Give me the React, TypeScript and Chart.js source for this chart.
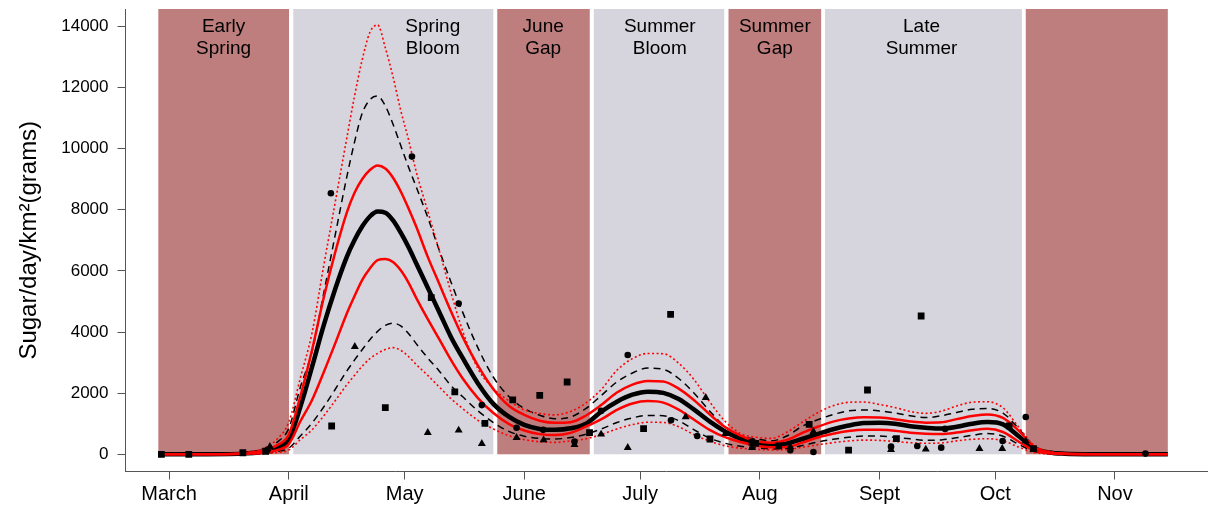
import React, { useEffect, useRef } from 'react';
import { Chart, registerables } from 'chart.js';

Chart.register(...registerables);

// ---- data (x = day of year) ----
const days = [
  57.2, 70, 80, 85, 88,
  91, 94, 97, 100, 103,
  106, 108, 110, 112, 114,
  116, 118, 120, 122, 124,
  127, 130, 133, 136, 140,
  144, 148, 152, 156, 160,
  164, 168, 172, 176, 180,
  184, 188, 192, 196, 200,
  204, 208, 212, 216, 220,
  224, 228, 232, 236, 240,
  244, 248, 252, 256, 260,
  264, 268, 272, 276, 280,
  284, 288, 292, 300, 310,
  318.7,
];

const meanCurve = [
  0, 0, 30, 100, 220,
  480, 1550, 2850, 4200, 5400,
  6450, 7000, 7450, 7780, 7940,
  7900, 7650, 7250, 6780, 6250,
  5450, 4650, 3840, 3160, 2320,
  1650, 1230, 960, 830, 800,
  850, 1000, 1400, 1720, 1950,
  2050, 2010, 1810, 1460, 1075,
  750, 510, 375, 300, 350,
  500, 660, 820, 940, 1020,
  1030, 1000, 920, 870, 840,
  900, 1000, 1055, 980, 600,
  200, 60, 20, 2, 0,
  0,
];

const redUpper = [
  0, 0, 40, 140, 300,
  650, 1900, 3400, 5100, 6600,
  7900, 8550, 9000, 9300, 9450,
  9350, 9050, 8600, 8050, 7450,
  6460, 5570, 4680, 3850, 2900,
  2130, 1590, 1290, 1100, 1030,
  1050, 1270, 1620, 2020, 2280,
  2400, 2380, 2150, 1770, 1310,
  890, 610, 430, 380, 470,
  700, 900, 1070, 1170, 1215,
  1200, 1150, 1075, 1035, 1045,
  1150, 1250, 1305, 1190, 780,
  250, 70, 25, 3, 0,
  0,
];

const redLower = [
  0, 0, 20, 60, 140,
  330, 1080, 1770, 2670, 3620,
  4600, 5170, 5700, 6080, 6350,
  6390, 6290, 6020, 5620, 5120,
  4420, 3760, 3090, 2490, 1840,
  1350, 990, 780, 660, 630,
  700, 910, 1150, 1450, 1660,
  1740, 1690, 1460, 1130, 800,
  560, 400, 290, 230, 240,
  380, 550, 670, 760, 805,
  800, 770, 705, 670, 660,
  710, 790, 835, 730, 420,
  130, 35, 10, 0, 0,
  0,
];

const dashUpper = [
  0, 0, 50, 180, 400,
  850, 2200, 3350, 5240, 7160,
  9060, 10200, 11150, 11600, 11720,
  11400, 10800, 10100, 9400, 8750,
  7750, 6670, 5640, 4660, 3480,
  2520, 1890, 1500, 1280, 1160,
  1220, 1500, 1930, 2370, 2660,
  2820, 2780, 2480, 2000, 1420,
  900, 610, 500, 440, 600,
  920, 1130, 1300, 1420, 1450,
  1420, 1350, 1260, 1200, 1260,
  1370, 1470, 1495, 1350, 850,
  270, 80, 25, 3, 0,
  0,
];

const dashLower = [
  0, 0, 10, 40, 90,
  200, 600, 1020, 1540, 2120,
  2720, 3080, 3420, 3750, 4020,
  4220, 4290, 4200, 3950, 3620,
  3150, 2720, 2250, 1890, 1420,
  1040, 750, 590, 520, 500,
  550, 660, 830, 1040, 1190,
  1270, 1260, 1100, 800, 530,
  360, 260, 210, 175, 190,
  290, 400, 490, 555, 595,
  595, 555, 505, 460, 470,
  540, 620, 680, 590, 330,
  90, 20, 5, 0, 0,
  0,
];

const dotUpper = [
  0, 0, 60, 220, 500,
  1050, 2500, 3960, 6140, 8230,
  10330, 11700, 12900, 13800, 14050,
  13300, 12350, 11250, 10300, 9250,
  7950, 6650, 5300, 4050, 2800,
  2150, 1750, 1450, 1330, 1290,
  1400, 1680, 2130, 2750, 3130,
  3300, 3290, 2980, 2440, 1720,
  1080, 680, 560, 520, 720,
  1050, 1360, 1590, 1700, 1710,
  1630, 1530, 1400, 1340, 1410,
  1580, 1705, 1720, 1520, 900,
  300, 90, 30, 3, 0,
  0,
];

const dotLower = [
  0, 0, 5, 25, 60,
  140, 480, 800, 1250, 1750,
  2270, 2580, 2880, 3130, 3300,
  3430, 3490, 3400, 3200, 2940,
  2580, 2200, 1820, 1500, 1110,
  830, 610, 480, 410, 390,
  440, 510, 650, 830, 970,
  1050, 1040, 900, 640, 430,
  280, 200, 165, 145, 150,
  230, 310, 380, 435, 465,
  455, 420, 380, 360, 370,
  440, 490, 510, 440, 240,
  60, 12, 3, 0, 0,
  0,
];

// observations [day, value]
const circlePoints = [
  [85.5, 150], [101.9, 8540], [122.9, 9740], [135, 4930], [141, 1610],
  [150, 870], [156.9, 800], [165, 420], [171.9, 1420], [178.8, 3250],
  [190, 1110], [196.8, 600], [220.9, 130], [226.9, 76], [247, 250],
  [253.8, 272], [260, 218], [261, 830], [275.9, 436], [281.9, 1222],
  [312.9, 22],
];
const squarePoints = [
  [58, 0], [65.1, 0], [79.1, 50], [85, 100], [102.1, 926],
  [116, 1527], [127.9, 5126], [134, 2039], [141.8, 1014], [149, 1777],
  [156, 1930], [163.1, 2365], [168.9, 709], [182.9, 840], [189.9, 4580],
  [200.1, 500], [211, 390], [211.9, 360], [217.9, 272], [225.8, 981],
  [236, 135], [240.9, 2104], [248.4, 515], [254.8, 4525], [277.6, 930],
  [283.9, 186],
];
const trianglePoints = [
  [86.1, 250], [108.1, 3523], [127, 709], [135, 785], [141, 349],
  [150, 546], [157, 468], [165, 310], [171.9, 654], [178.8, 218],
  [193.8, 1225], [199, 1854], [204.1, 676], [211, 218], [220.9, 250],
  [226.9, 740], [247, 150], [256, 164], [269.9, 186], [275.8, 186],
  [281.9, 436],
];

// axes
const monthTickDays = [60, 91, 121, 152, 182, 213, 244, 274, 305];
const monthLabels = ['March', 'April', 'May', 'June', 'July', 'Aug', 'Sept', 'Oct', 'Nov'];
const yTickValues = [0, 2000, 4000, 6000, 8000, 10000, 12000, 14000];
const X_MIN = 48.7;
const X_MAX = 328.9;
const Y_MIN = -563;
const Y_MAX = 14569;

// seasonal bands
const bandStarts = [57.2, 92.15, 145.0, 170.0, 204.9, 229.9, 281.9];
const bandEnds = [91.05, 143.98, 168.96, 203.8, 228.9, 280.9, 318.7];
const bandIsGap = [true, false, true, false, true, false, true];
const bandLine1 = ['Early', 'Spring', 'June', 'Summer', 'Summer', 'Late', ''];
const bandLine2 = ['Spring', 'Bloom', 'Gap', 'Bloom', 'Gap', 'Summer', ''];
const bandLabelX = [74.1, 128.3, 156.9, 187.1, 216.9, 254.9, 300];

const GAP_COLOR = '#bf7e7e';
const BLOOM_COLOR = '#d6d5dd';
const FONT = "'Liberation Sans', Arial, Helvetica, sans-serif";

const bandsPlugin = {
  id: 'seasonBands',
  beforeDatasetsDraw(chart: any) {
    const { ctx, scales, chartArea } = chart;
    const x = scales.x;
    const y = scales.y;
    ctx.save();
    const yTop = chartArea.top;
    const yBot = y.getPixelForValue(0);
    for (let i = 0; i < bandStarts.length; i++) {
      const x0 = x.getPixelForValue(bandStarts[i]);
      const x1 = x.getPixelForValue(bandEnds[i]);
      ctx.fillStyle = bandIsGap[i] ? GAP_COLOR : BLOOM_COLOR;
      ctx.fillRect(x0, yTop, x1 - x0, yBot - yTop);
    }
    ctx.fillStyle = '#000';
    ctx.font = `19px ${FONT}`;
    ctx.textAlign = 'center';
    ctx.textBaseline = 'alphabetic';
    for (let i = 0; i < bandStarts.length; i++) {
      const lx = x.getPixelForValue(bandLabelX[i]);
      if (bandLine1[i]) ctx.fillText(bandLine1[i], lx, yTop + 23);
      if (bandLine2[i]) ctx.fillText(bandLine2[i], lx, yTop + 45);
    }
    ctx.restore();
  },
};

function curve(values: number[]) {
  return days.map((d, i) => ({ x: d, y: values[i] }));
}
function pts(list: number[][]) {
  return list.map(([d, v]) => ({ x: d, y: v }));
}

export default function App() {
  const canvasRef = useRef<HTMLCanvasElement | null>(null);

  useEffect(() => {
    const canvas = canvasRef.current;
    if (!canvas) return;
    Chart.defaults.font.family = FONT;

    const lineBase = {
      type: 'line' as const,
      pointRadius: 0,
      pointHoverRadius: 0,
      fill: false,
      cubicInterpolationMode: 'monotone' as const,
      borderCapStyle: 'butt' as const,
    };
    const scatterBase = {
      type: 'scatter' as const,
      showLine: false,
      backgroundColor: '#000',
      borderColor: '#000',
      borderWidth: 0,
      order: 0,
    };

    const chart = new Chart(canvas, {
      type: 'line',
      data: {
        datasets: [
          { ...scatterBase, data: pts(circlePoints), pointStyle: 'circle', pointRadius: 3.3 },
          { ...scatterBase, data: pts(squarePoints), pointStyle: 'rect', pointRadius: 4.8 },
          { ...scatterBase, data: pts(trianglePoints), pointStyle: 'triangle', pointRadius: 4.6 },
          { ...lineBase, data: curve(dotUpper), borderColor: '#ff0000', borderWidth: 1.6, borderDash: [2, 2.5], order: 1 },
          { ...lineBase, data: curve(dotLower), borderColor: '#ff0000', borderWidth: 1.6, borderDash: [2, 2.5], order: 1 },
          { ...lineBase, data: curve(redUpper), borderColor: '#ff0000', borderWidth: 2.5, order: 2 },
          { ...lineBase, data: curve(redLower), borderColor: '#ff0000', borderWidth: 2.5, order: 2 },
          { ...lineBase, data: curve(dashUpper), borderColor: '#000', borderWidth: 1.5, borderDash: [7, 5], order: 3 },
          { ...lineBase, data: curve(dashLower), borderColor: '#000', borderWidth: 1.5, borderDash: [7, 5], order: 3 },
          { ...lineBase, data: curve(meanCurve), borderColor: '#000', borderWidth: 4.5, order: 4 },
        ] as any,
      },
      options: {
        responsive: false,
        animation: false,
        devicePixelRatio: 1,
        layout: { padding: { top: 9, left: 0, right: 0, bottom: 0 } },
        plugins: { legend: { display: false }, tooltip: { enabled: false } },
        events: [],
        scales: {
          x: {
            type: 'linear',
            min: X_MIN,
            max: X_MAX,
            afterFit: (s: any) => {
              s.height = 36.5;
              s.paddingLeft = 0;
              s.paddingRight = 0;
              s.paddingTop = 0;
              s.paddingBottom = 0;
            },
            afterBuildTicks: (s: any) => { s.ticks = monthTickDays.map((v) => ({ value: v })); },
            ticks: {
              autoSkip: false,
              maxRotation: 0,
              color: '#000',
              font: { size: 20, family: FONT },
              padding: 3,
              callback: (v: any) => monthLabels[monthTickDays.indexOf(Number(v))] ?? '',
            },
            grid: { display: true, drawOnChartArea: false, drawTicks: true, tickLength: 8, color: '#555', lineWidth: 1 },
            border: { display: true, color: '#555', width: 1 },
          },
          y: {
            type: 'linear',
            min: Y_MIN,
            max: Y_MAX,
            afterFit: (s: any) => {
              s.width = 125.5;
              s.paddingTop = 0;
              s.paddingBottom = 0;
              s.paddingLeft = 0;
              s.paddingRight = 0;
            },
            afterBuildTicks: (s: any) => { s.ticks = yTickValues.map((v) => ({ value: v })); },
            ticks: {
              color: '#000',
              font: { size: 17, family: FONT },
              padding: 9,
              callback: (v: any) => String(v),
            },
            grid: { display: true, drawOnChartArea: false, drawTicks: true, tickLength: 8, color: '#555', lineWidth: 1 },
            border: { display: true, color: '#555', width: 1 },
            title: {
              display: true,
              text: 'Sugar/day/km²(grams)',
              color: '#000',
              font: { size: 24, family: FONT },
              padding: { top: 15, bottom: 0 },
            },
          },
        },
      } as any,
      plugins: [bandsPlugin],
    });

    return () => chart.destroy();
  }, []);

  return (
    <div style={{ position: 'fixed', left: 0, top: 0, width: 1212, height: 508, background: '#fff' }}>
      <canvas ref={canvasRef} width={1212} height={508} style={{ display: 'block', width: 1212, height: 508 }} />
    </div>
  );
}
